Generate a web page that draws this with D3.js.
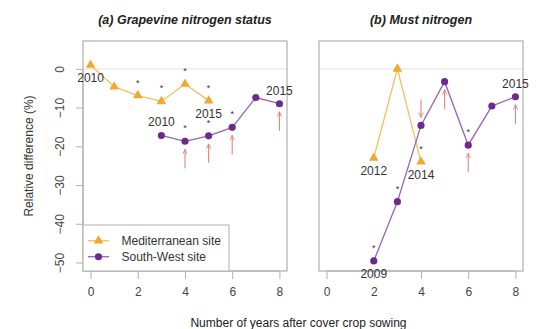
<!DOCTYPE html>
<html><head><meta charset="utf-8">
<script src="https://cdn.jsdelivr.net/npm/d3@7"></script>
<style>body{margin:0;background:#fff}svg{display:block}</style>
</head><body>
<svg id="c" width="536" height="329"></svg>
<script>
// ---- data ----
const xTicks = [0, 2, 4, 6, 8];
const yTicks = [0, -10, -20, -30, -40, -50];
const panelTitles = ["(a) Grapevine nitrogen status", "(b) Must nitrogen"];
const seriesNames = ["Mediterranean site", "South-West site"];

// Panel a
const aMedYears = [0, 1, 2, 3, 4, 5];
const aMedValues = [1.0, -4.6, -6.9, -8.4, -3.9, -8.2];
const aSWYears = [3, 4, 5, 6, 7, 8];
const aSWValues = [-17.2, -18.7, -17.3, -15.1, -7.4, -9.0];
// Panel b
const bMedYears = [2, 3, 4];
const bMedValues = [-23.0, 0.0, -24.0];
const bSWYears = [2, 3, 4, 5, 6, 7, 8];
const bSWValues = [-49.6, -34.3, -14.6, -3.3, -19.7, -9.6, -7.2];

// annotations: [series, year, label, position]
const aYearLabels = [["med", 0, "2010", "below"], ["med", 5, "2015", "below"], ["sw", 3, "2010", "above"], ["sw", 8, "2015", "above"]];
const bYearLabels = [["med", 2, "2012", "below"], ["med", 4, "2014", "below"], ["sw", 2, "2009", "below"], ["sw", 8, "2015", "above"]];
// significance stars: [series, year]
const aStars = [["med", 2], ["med", 3], ["med", 4], ["med", 5], ["sw", 4], ["sw", 5], ["sw", 6]];
const bStars = [["sw", 2], ["sw", 3], ["med", 4], ["sw", 6]];
// arrows: [series, year, direction]
const aArrows = [["sw", 4, "up"], ["sw", 5, "up"], ["sw", 6, "up"], ["sw", 8, "up"]];
const bArrows = [["sw", 4, "down"], ["sw", 5, "up"], ["sw", 6, "up"], ["sw", 8, "up"]];

// ---- drawing ----
const svg = d3.select("#c");
const font = "Liberation Sans, Arial, sans-serif";
const MED = "#F2A730", MEDL = "#F5BE5E";
const SW = "#6B2A8C", SWL = "#9466B5";
const ARROW = "#E8827C";
const BOX = "#b0b0b0";

const defs = svg.append("defs");
defs.append("marker").attr("id", "ah").attr("viewBox", "0 0 10 10").attr("refX", 9).attr("refY", 5)
  .attr("markerWidth", 5).attr("markerHeight", 5).attr("orient", "auto-start-reverse")
  .append("path").attr("d", "M0,1 L9,5 L0,9").attr("fill", "none").attr("stroke", ARROW).attr("stroke-width", 1.6);

const yTop = 41, yBottom = 271;
const y = d3.scaleLinear().domain([-52.2, 7.2]).range([yBottom, yTop]);

const panels = [
  {left: 83, right: 287, title: panelTitles[0], med: [aMedYears, aMedValues], sw: [aSWYears, aSWValues],
   labels: aYearLabels, stars: aStars, arrows: aArrows, yaxis: true, legend: true},
  {left: 319, right: 523, title: panelTitles[1], med: [bMedYears, bMedValues], sw: [bSWYears, bSWValues],
   labels: bYearLabels, stars: bStars, arrows: bArrows, yaxis: false, legend: false}
];

const tri = d3.symbol().type(d3.symbolTriangle).size(40);
const circ = d3.symbol().type(d3.symbolCircle).size(40);

panels.forEach(p => {
  const x = d3.scaleLinear().domain([-0.32, 8.32]).range([p.left, p.right]);
  const g = svg.append("g");
  const data = {
    med: p.med[0].map((yr, i) => ({x: yr, y: p.med[1][i]})),
    sw: p.sw[0].map((yr, i) => ({x: yr, y: p.sw[1][i]}))
  };
  const find = (s, yr) => data[s].find(d => d.x === yr);

  g.append("line").attr("x1", p.left).attr("x2", p.right).attr("y1", y(0)).attr("y2", y(0))
    .attr("stroke", "#e2e2e2").attr("stroke-width", 1);

  g.append("rect").attr("x", p.left).attr("y", yTop).attr("width", p.right - p.left).attr("height", yBottom - yTop)
    .attr("fill", "none").attr("stroke", BOX).attr("stroke-width", 1.2);

  const xa = g.append("g").attr("transform", `translate(0,${yBottom})`)
    .call(d3.axisBottom(x).tickValues(xTicks).tickSize(8).tickPadding(8).tickFormat(d3.format("d")));
  xa.select(".domain").attr("stroke", BOX).attr("d", `M${x(0)},0H${x(8)}`);
  xa.selectAll(".tick line").attr("stroke", BOX);
  xa.selectAll("text").attr("font-family", font).attr("font-size", 12).attr("fill", "#444");

  if (p.yaxis) {
    const ya = g.append("g").attr("transform", `translate(${p.left},0)`)
      .call(d3.axisLeft(y).tickValues(yTicks).tickSize(7).tickFormat(d3.format("d")));
    ya.select(".domain").attr("stroke", BOX).attr("d", `M0,${y(0)}V${y(-50)}`);
    ya.selectAll(".tick line").attr("stroke", BOX);
    ya.selectAll(".tick text").attr("font-family", font).attr("font-size", 12).attr("fill", "#444")
      .attr("text-anchor", "middle").attr("x", 0).attr("dy", 0)
      .attr("transform", "translate(-23,0) rotate(-90)").attr("dominant-baseline", "central");
  }

  svg.append("text").attr("x", (p.left + p.right) / 2).attr("y", 24).attr("text-anchor", "middle")
    .attr("font-family", font).attr("font-size", 12.5).attr("font-weight", "bold").attr("font-style", "italic")
    .attr("fill", "#222").text(p.title);

  const line = d3.line().x(d => x(d.x)).y(d => y(d.y));
  g.append("path").datum(data.med).attr("d", line).attr("fill", "none").attr("stroke", MEDL).attr("stroke-width", 1.3);
  g.append("path").datum(data.sw).attr("d", line).attr("fill", "none").attr("stroke", SWL).attr("stroke-width", 1.3);
  g.selectAll(".tm").data(data.med).join("path").attr("d", tri)
    .attr("transform", d => `translate(${x(d.x)},${y(d.y)})`).attr("fill", MED);
  g.selectAll(".cm").data(data.sw).join("path").attr("d", circ)
    .attr("transform", d => `translate(${x(d.x)},${y(d.y)})`).attr("fill", SW);

  p.labels.forEach(([s, yr, lab, pos]) => {
    const d = find(s, yr);
    g.append("text").attr("x", x(d.x)).attr("y", y(d.y) + (pos === "below" ? 17 : -9))
      .attr("text-anchor", "middle").attr("font-family", font).attr("font-size", 12).attr("fill", "#333").text(lab);
  });

  p.stars.forEach(([s, yr]) => {
    const d = find(s, yr);
    g.append("text").attr("x", x(d.x)).attr("y", y(d.y) - 10)
      .attr("text-anchor", "middle").attr("font-family", font).attr("font-size", 9).attr("fill", "#333").text("*");
  });

  p.arrows.forEach(([s, yr, dir]) => {
    const d = find(s, yr);
    const px = x(d.x), py = y(d.y);
    let y1, y2;
    if (dir === "up") { y1 = py + 27; y2 = py + 8; } else { y1 = py - 26; y2 = py - 8; }
    g.append("line").attr("x1", px).attr("x2", px).attr("y1", y1).attr("y2", y2)
      .attr("stroke", ARROW).attr("stroke-width", 1.1).attr("marker-end", "url(#ah)");
  });

  if (p.legend) {
    const lg = g.append("g");
    lg.append("rect").attr("x", p.left).attr("y", 225).attr("width", 146).attr("height", yBottom - 225)
      .attr("fill", "#fff").attr("stroke", BOX).attr("stroke-width", 1);
    [[MED, MEDL, tri, 240.7], [SW, SWL, circ, 256.7]].forEach(([c, cl, sym, ly], i) => {
      lg.append("line").attr("x1", 88).attr("x2", 109).attr("y1", ly).attr("y2", ly).attr("stroke", cl).attr("stroke-width", 1.3);
      lg.append("path").attr("d", sym).attr("transform", `translate(98.5,${ly})`).attr("fill", c);
      lg.append("text").attr("x", 121.5).attr("y", ly + 4.3).attr("font-family", font).attr("font-size", 12)
        .attr("fill", "#333").text(seriesNames[i]);
    });
  }
});

svg.append("text").attr("transform", `translate(33,156) rotate(-90)`).attr("text-anchor", "middle")
  .attr("font-family", font).attr("font-size", 12).attr("fill", "#333").text("Relative difference (%)");
svg.append("text").attr("x", 298.5).attr("y", 327).attr("text-anchor", "middle")
  .attr("font-family", font).attr("font-size", 12).attr("fill", "#222").text("Number of years after cover crop sowing");
</script>
</body></html>
